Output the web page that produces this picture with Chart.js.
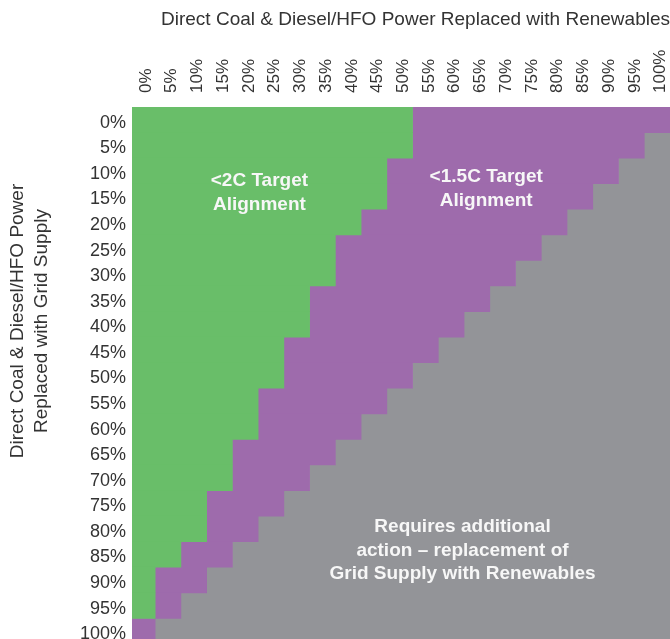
<!DOCTYPE html>
<html>
<head>
<meta charset="utf-8">
<script src="https://cdn.jsdelivr.net/npm/chart.js@4.4.1/dist/chart.umd.min.js"></script>
<style>
  html, body { margin: 0; padding: 0; overflow: hidden; background: #fff; }
  /* a little taller than the window: the last row is cut off, as in the source */
  #wrap { width: 670px; height: 644px; }
</style>
</head>
<body>
<div id="wrap"><canvas id="chart"></canvas></div>
<script>
// columns: share of direct coal & diesel/HFO power replaced with renewables
const renewablesLabels = ['0%', '5%', '10%', '15%', '20%', '25%', '30%', '35%', '40%', '45%', '50%',
  '55%', '60%', '65%', '70%', '75%', '80%', '85%', '90%', '95%', '100%'];
// rows: share replaced with grid supply
const gridLabels = ['0%', '5%', '10%', '15%', '20%', '25%', '30%', '35%', '40%', '45%', '50%',
  '55%', '60%', '65%', '70%', '75%', '80%', '85%', '90%', '95%', '100%'];

// per row, how many renewables columns fall in the <2C band
const below2CCols = [11, 11, 10, 10, 9, 8, 8, 7, 7, 6, 6, 5, 5, 4, 4, 3, 3, 2, 1, 1, 0];
// per row, column where the <1.5C band stops (grey after that)
const below15CEnd = [21, 20, 19, 18, 17, 16, 15, 14, 13, 12, 11, 10, 9, 8, 7, 6, 5, 4, 3, 2, 1];

const totalCols = renewablesLabels.length;
const purpleCols = below15CEnd.map((end, i) => end - below2CCols[i]);
const greyCols = below15CEnd.map(end => totalCols - end);

const GREEN = '#69be69';
const PURPLE = '#9e6bac';
const GREY = '#939498';
const TEXT = '#333333';
const FONT = "'Liberation Sans', Arial, Helvetica, sans-serif";

const bandNotes = [
  { lines: ['<2C Target', 'Alignment'], x: 5.05, y: 2.85 },
  { lines: ['<1.5C Target', 'Alignment'], x: 13.86, y: 2.7 },
  { lines: ['Requires additional', 'action \u2013 replacement of', 'Grid Supply with Renewables'], x: 12.94, y: 16.84 }
];

// white labels inside the coloured bands
const notesPlugin = {
  id: 'bandNotes',
  afterDatasetsDraw(chart, args, opts) {
    const {ctx, scales: {x, y}} = chart;
    ctx.save();
    ctx.font = 'bold 19px ' + FONT;
    ctx.fillStyle = '#f7f7f7';
    ctx.textAlign = 'center';
    ctx.textBaseline = 'middle';
    opts.notes.forEach(n => {
      const cx = x.getPixelForValue(n.x);
      const cy = y.getPixelForValue(n.y);
      const first = cy - (n.lines.length - 1) * opts.lineHeight / 2;
      n.lines.forEach((line, i) => ctx.fillText(line, cx, first + i * opts.lineHeight));
    });
    ctx.restore();
  }
};

// the left title sits higher than the middle of the axis, so it is drawn by hand
const sideTitlePlugin = {
  id: 'sideTitle',
  afterDraw(chart, args, opts) {
    const ctx = chart.ctx;
    ctx.save();
    ctx.font = '19px ' + FONT;
    ctx.fillStyle = TEXT;
    ctx.textAlign = 'center';
    ctx.textBaseline = 'middle';
    opts.lines.forEach((line, i) => {
      ctx.save();
      ctx.translate(opts.x + i * opts.lineHeight, opts.y);
      ctx.rotate(-Math.PI / 2);
      ctx.fillText(line, 0, 0);
      ctx.restore();
    });
    ctx.restore();
  }
};

const bar = {
  barPercentage: 1,
  categoryPercentage: 1,
  borderWidth: 0
};

new Chart(document.getElementById('chart'), {
  type: 'bar',
  data: {
    labels: gridLabels,
    datasets: [
      { label: '<2C', data: below2CCols, backgroundColor: GREEN, ...bar },
      { label: '<1.5C', data: purpleCols, backgroundColor: PURPLE, ...bar },
      { label: 'Additional action', data: greyCols, backgroundColor: GREY, ...bar }
    ]
  },
  options: {
    indexAxis: 'y',
    responsive: true,
    maintainAspectRatio: false,
    animation: false,
    events: [],
    layout: { padding: 0 },
    plugins: {
      legend: { display: false },
      tooltip: { enabled: false },
      bandNotes: { notes: bandNotes, lineHeight: 23.5 },
      sideTitle: {
        lines: ['Direct Coal & Diesel/HFO Power', 'Replaced with Grid Supply'],
        x: 17.5, y: 321, lineHeight: 24
      }
    },
    scales: {
      x: {
        type: 'linear',
        position: 'top',
        stacked: true,
        min: 0.1,
        max: totalCols,
        grid: { display: false, drawTicks: false },
        border: { display: false },
        afterBuildTicks: scale => {
          scale.ticks = renewablesLabels.map((_, i) => ({ value: i + 0.5 }));
        },
        afterFit: scale => {
          scale.height = 107;
          scale.paddingLeft = 0;
          scale.paddingRight = 0;
        },
        ticks: {
          autoSkip: false,
          minRotation: 90,
          maxRotation: 90,
          padding: 14,
          labelOffset: 24,
          color: TEXT,
          font: { family: FONT, size: 17 },
          callback: (value, index) => renewablesLabels[index]
        },
        title: {
          display: true,
          text: 'Direct Coal & Diesel/HFO Power Replaced with Renewables',
          align: 'end',
          color: TEXT,
          font: { family: FONT, size: 19 },
          padding: { top: 8, bottom: 0 }
        }
      },
      y: {
        type: 'category',
        stacked: true,
        offset: true,
        grid: { display: false, drawTicks: false },
        border: { display: false },
        afterFit: scale => {
          scale.width = 132;
          scale.paddingTop = 0;
          scale.paddingBottom = 0;
        },
        ticks: {
          autoSkip: false,
          padding: 6,
          labelOffset: 3,
          color: TEXT,
          font: { family: FONT, size: 18 }
        }
      }
    }
  },
  plugins: [notesPlugin, sideTitlePlugin]
});
</script>
</body>
</html>
